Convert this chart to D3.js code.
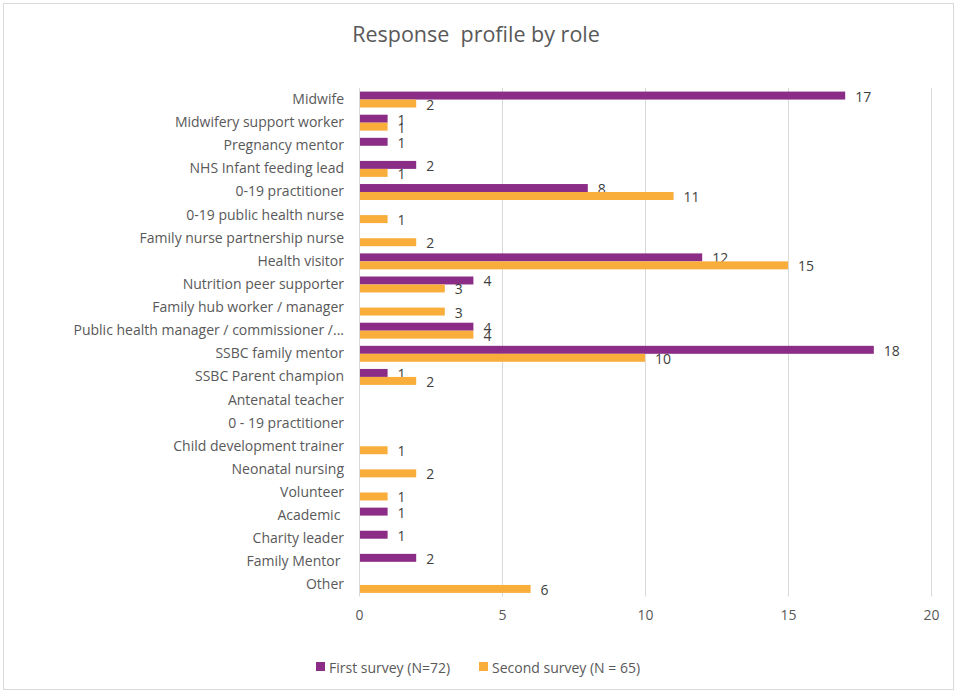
<!DOCTYPE html>
<html>
<head>
<meta charset="utf-8">
<script src="https://cdn.jsdelivr.net/npm/d3@7"></script>
<style>
  html, body { margin: 0; padding: 0; background: #fff; }
  svg { display: block; }
  text { font-family: "Open Sans", "Liberation Sans", sans-serif; }
</style>
</head>
<body>
<svg id="chart" width="959" height="690"></svg>
<script>
// Roles, top to bottom
const roles = [
  "Midwife", "Midwifery support worker", "Pregnancy mentor", "NHS Infant feeding lead",
  "0-19 practitioner", "0-19 public health nurse", "Family nurse partnership nurse",
  "Health visitor", "Nutrition peer supporter", "Family hub worker / manager",
  "Public health manager / commissioner /...", "SSBC family mentor", "SSBC Parent champion",
  "Antenatal teacher", "0 - 19 practitioner", "Child development trainer",
  "Neonatal nursing", "Volunteer", "Academic ", "Charity leader", "Family Mentor ", "Other"
];

// Responses per role (null = no responses)
const firstSurvey = [17, 1, 1, 2, 8, null, null, 12, 4, null, 4, 18, 1, null, null, null, null, null, 1, 1, 2, null];
const secondSurvey = [2, 1, null, 1, 11, 1, 2, 15, 3, 3, 4, 10, 2, null, null, 1, 2, 1, null, null, null, 6];

const seriesNames = ["First survey (N=72)", "Second survey (N = 65)"];
const seriesColors = ["#8B2D87", "#F9AE3C"];
const xTicks = [0, 5, 10, 15, 20];

const series = [firstSurvey, secondSurvey];

const svg = d3.select("#chart");
const W = 959, H = 690;

// chart frame
svg.append("rect")
  .attr("x", 3.5).attr("y", 3.5)
  .attr("width", W - 9).attr("height", H - 4)
  .attr("fill", "#fff").attr("stroke", "#d9d9d9").attr("stroke-width", 1);

// title
svg.append("text")
  .attr("x", 476).attr("y", 33)
  .attr("text-anchor", "middle").attr("dominant-baseline", "central")
  .attr("font-size", 21.5).attr("fill", "#595959")
  .style("white-space", "pre")
  .text("Response  profile by role");

const plot = { left: 359, right: 931, top: 88, bottom: 596.5 };

const x = d3.scaleLinear().domain([0, 20]).range([plot.left, plot.right]);
const y = d3.scaleBand().domain(roles).range([plot.top, plot.bottom])
  .paddingInner(0.31).paddingOuter(0.155);
const ySub = d3.scaleBand().domain([0, 1]).range([0, y.bandwidth()]).padding(0);

// vertical gridlines
svg.append("g").selectAll("line")
  .data(xTicks.slice(1))
  .join("line")
  .attr("x1", d => Math.round(x(d)) + 0.5).attr("x2", d => Math.round(x(d)) + 0.5)
  .attr("y1", plot.top).attr("y2", plot.bottom)
  .attr("stroke", "#d9d9d9").attr("stroke-width", 1);

// value axis labels
const xAxis = d3.axisBottom(x).tickValues(xTicks).tickSize(0).tickPadding(0);
const gx = svg.append("g").attr("transform", `translate(0, ${plot.bottom + 14})`).call(xAxis);
gx.select(".domain").remove();
gx.selectAll("text")
  .attr("font-size", 14).attr("fill", "#595959")
  .attr("font-family", "'Open Sans', sans-serif")
  .attr("dy", "0.71em");

// category axis
const yAxis = d3.axisLeft(y).tickSize(0).tickPadding(15);
const gy = svg.append("g").attr("transform", `translate(${plot.left}, 0)`).call(yAxis);
gy.select(".domain").remove();
gy.selectAll("text")
  .attr("font-size", 14).attr("fill", "#595959")
  .attr("font-family", "'Open Sans', sans-serif")
  .style("white-space", "pre");

// bars
series.forEach((vals, si) => {
  const rows = roles.map((r, i) => ({ role: r, v: vals[i] })).filter(d => d.v != null);
  const g = svg.append("g");
  g.selectAll("rect")
    .data(rows)
    .join("rect")
    .attr("x", x(0))
    .attr("y", d => y(d.role) + ySub(si))
    .attr("width", d => x(d.v) - x(0))
    .attr("height", ySub.bandwidth())
    .attr("fill", seriesColors[si]);
  g.selectAll("text")
    .data(rows)
    .join("text")
    .attr("x", d => x(d.v) + 10)
    .attr("y", d => y(d.role) + ySub(si) + ySub.bandwidth() / 2 + 0.5)
    .attr("dominant-baseline", "central")
    .attr("font-size", 14).attr("fill", "#404040")
    .text(d => d.v);
});

// category axis line
svg.append("line")
  .attr("x1", plot.left + 0.5).attr("x2", plot.left + 0.5)
  .attr("y1", plot.top).attr("y2", plot.bottom)
  .attr("stroke", "#d9d9d9").attr("stroke-width", 1);

// legend
const legendItems = [
  { name: seriesNames[0], color: seriesColors[0], x: 316 },
  { name: seriesNames[1], color: seriesColors[1], x: 479 }
];
const lg = svg.append("g");
legendItems.forEach(it => {
  lg.append("rect").attr("x", it.x).attr("y", 662).attr("width", 9).attr("height", 9).attr("fill", it.color);
  lg.append("text").attr("x", it.x + 13).attr("y", 667)
    .attr("dominant-baseline", "central")
    .attr("font-size", 14).attr("fill", "#595959")
    .text(it.name);
});
</script>
</body>
</html>
